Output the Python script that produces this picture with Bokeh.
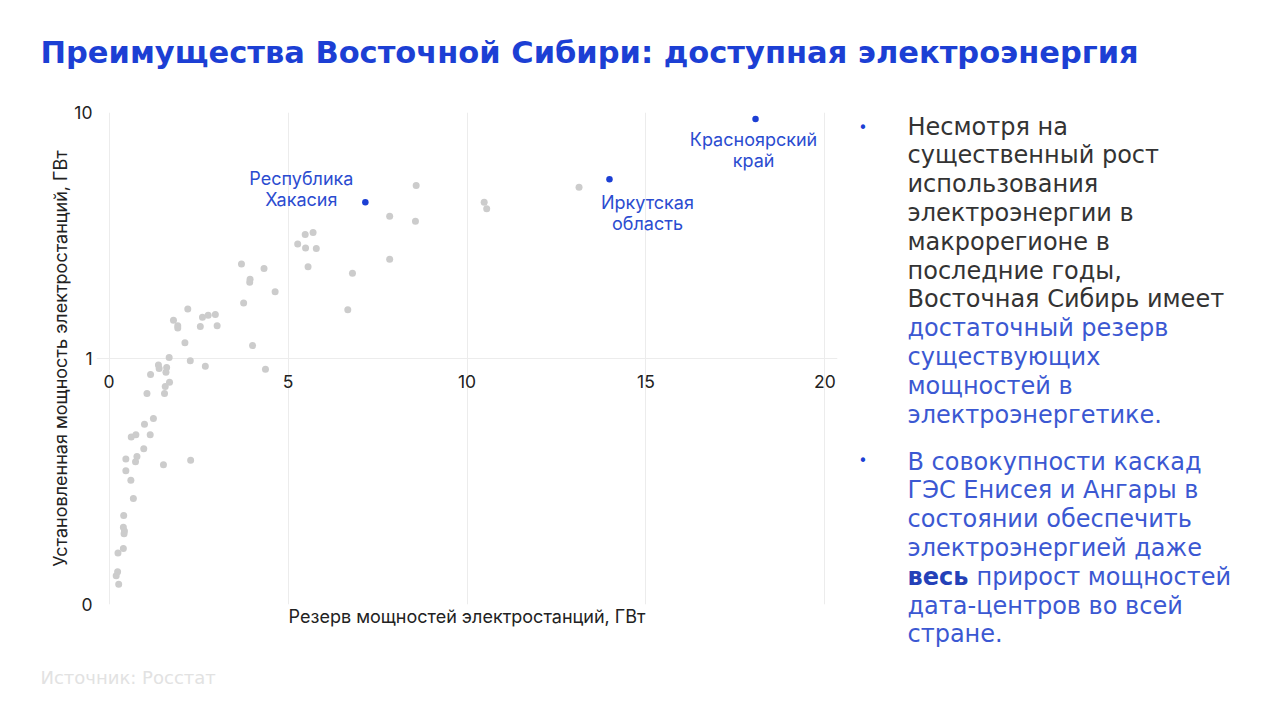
from bokeh.plotting import figure
from bokeh.models import Range1d, Label, FixedTicker, LinearAxis
from bokeh.layouts import column, row
from bokeh.embed import file_html
from bokeh.resources import INLINE

# ---------------- data ----------------
reserve_gw = [8.58, 7.84, 8.56, 7.84, 5.48, 5.70, 5.27, 5.49, 5.79, 5.56, 6.80, 6.67,
              3.70, 4.33, 3.94, 3.93, 4.64, 3.76, 4.01, 4.37, 2.20, 1.80, 1.92, 1.92,
              2.61, 2.77, 2.97, 2.55, 3.02, 2.12, 1.68, 2.27, 2.69, 1.38, 1.40, 1.61,
              1.59, 1.16, 1.69, 1.57, 1.55, 1.06, 1.24, 0.99, 0.62, 0.75, 1.15, 0.97,
              0.47, 0.78, 0.74, 0.47, 1.52, 2.28, 0.61, 0.68, 0.41, 0.40, 0.43, 0.42,
              0.40, 0.25, 0.24, 0.20, 0.27, 13.13, 10.48, 10.55]
installed_gw = [5.05, 3.79, 3.61, 2.53, 3.19, 3.25, 2.92, 2.81, 2.80, 2.36, 2.22, 1.58,
                2.42, 2.32, 2.10, 2.04, 1.87, 1.68, 1.13, 0.905, 1.59, 1.43, 1.36, 1.33,
                1.47, 1.50, 1.51, 1.35, 1.36, 1.16, 1.01, 0.98, 0.93, 0.94, 0.91, 0.92,
                0.88, 0.86, 0.80, 0.77, 0.72, 0.72, 0.57, 0.54, 0.48, 0.49, 0.49, 0.43,
                0.39, 0.40, 0.38, 0.35, 0.37, 0.386, 0.32, 0.27, 0.23, 0.206, 0.199, 0.194,
                0.169, 0.162, 0.136, 0.131, 0.121, 4.97, 4.32, 4.06]

hl_names = ["Республика\nХакасия", "Иркутская\nобласть", "Красноярский\nкрай"]
hl_reserve = [7.16, 13.98, 18.06]
hl_installed = [4.32, 5.35, 9.40]

x_ticks = [0, 5, 10, 15, 20]
y_ticks = [0.1, 1, 10]
y_tick_labels = {0.1: "0", 1: "1", 10: "10"}

title_text = "Преимущества Восточной Сибири: доступная электроэнергия"
x_title = "Резерв мощностей электростанций, ГВт"
y_title = "Установленная мощность электростанций, ГВт"
source_text = "Источник: Росстат"

bullet1_dark = ["Несмотря на", "существенный рост", "использования",
                "электроэнергии в", "макрорегионе в", "последние годы,",
                "Восточная Сибирь имеет"]
bullet1_blue = ["достаточный резерв", "существующих", "мощностей в",
                "электроэнергетике."]
bullet2_lines = ["В совокупности каскад", "ГЭС Енисея и Ангары в",
                 "состоянии обеспечить", "электроэнергией даже",
                 None, "дата-центров во всей", "стране."]
bullet2_bold = "весь"
bullet2_rest = "прирост мощностей"

# ---------------- styling / layout ----------------
W, H = 1264, 705
HEAD_H = 100          # title strip: page y 0..100
MID_BOTTOM = 650      # chart + side text end here; footer below
MAIN_W = 840          # chart column width
FL, FR = 96, 837      # frame edges (x) in page pixels
FT, FB = 112, 604     # frame edges (y) in page pixels
PAD = 0.35            # x padding so edge tick labels are not clipped

BLUE = "#1c3fd4"
TEXT_BLUE = "#3b58d2"
DARK = "#333333"
GREY_PT = "#cccccc"
AXIS_TXT = "#222222"
AX_FONT = "Inter"


def blank(width, height, x0, x1, y0, y1):
    f = figure(width=width, height=height, output_backend="svg",
               toolbar_location=None, x_range=Range1d(x0, x1),
               y_range=Range1d(y1, y0), x_axis_location=None,
               y_axis_location=None, min_border=0)
    f.grid.visible = False
    f.outline_line_color = None
    f.background_fill_color = "white"
    f.border_fill_color = "white"
    return f


def lab(f, x, y, text, size="16px", color=DARK, font="DejaVu Sans",
        style="normal", align="left", baseline="middle"):
    f.add_layout(Label(x=x, y=y, text=text, text_font=font, text_font_size=size,
                       text_color=color, text_font_style=style, text_align=align,
                       text_baseline=baseline))


# ---- title strip ----
p_head = blank(W, HEAD_H, 0, W, 0, HEAD_H)
lab(p_head, 40, 52, title_text, size="30.5px", color=BLUE, style="bold")

# ---- main chart ----
p = figure(width=MAIN_W, height=MID_BOTTOM - HEAD_H, output_backend="svg",
           toolbar_location=None, x_range=Range1d(-PAD, 20 + PAD),
           y_range=Range1d(0.1, 10), y_axis_type="log",
           min_border_left=FL, min_border_right=MAIN_W - FR,
           min_border_top=FT - HEAD_H, min_border_bottom=MID_BOTTOM - FB)
p.outline_line_color = None
p.background_fill_color = "white"
p.border_fill_color = "white"

p.xgrid.ticker = FixedTicker(ticks=x_ticks)
p.ygrid.ticker = FixedTicker(ticks=y_ticks)
p.xgrid.grid_line_color = "#ececec"
p.ygrid.grid_line_color = "#ececec"

xa = p.xaxis[0]
xa.ticker = FixedTicker(ticks=x_ticks)
xa.fixed_location = 1
xa.axis_line_color = None
xa.major_tick_line_color = None
xa.minor_tick_line_color = None
xa.major_label_standoff = 10
xa.major_label_text_font = AX_FONT
xa.major_label_text_font_size = "17.5px"
xa.major_label_text_color = AXIS_TXT

# axis that only carries the x title at the bottom of the frame
xt = LinearAxis(ticker=FixedTicker(ticks=[]), axis_label=x_title,
                axis_line_color=None, major_tick_line_color=None,
                minor_tick_line_color=None, major_label_standoff=0,
                axis_label_standoff=1, axis_label_text_font=AX_FONT,
                axis_label_text_font_size="18px", axis_label_text_font_style="normal",
                axis_label_text_color=AXIS_TXT)
p.add_layout(xt, "below")

ya = p.yaxis[0]
ya.ticker = FixedTicker(ticks=y_ticks)
ya.major_label_overrides = y_tick_labels
ya.axis_line_color = None
ya.major_tick_line_color = None
ya.minor_tick_line_color = None
ya.major_label_standoff = -2
ya.major_label_text_font = AX_FONT
ya.major_label_text_font_size = "17.5px"
ya.major_label_text_color = AXIS_TXT
ya.axis_label = y_title
ya.axis_label_text_font = AX_FONT
ya.axis_label_text_font_size = "18px"
ya.axis_label_text_font_style = "normal"
ya.axis_label_text_color = AXIS_TXT
ya.axis_label_standoff = 0

p.scatter(x=reserve_gw, y=installed_gw, size=7, color=GREY_PT, line_color=None)
p.scatter(x=hl_reserve, y=hl_installed, size=6.5, color=BLUE, line_color=None)

# point annotations: screen offsets from each highlighted point
ann_offsets = [(-64, -24), (38, 23), (-2, 20)]
for xv, yv, name, (dx, dy) in zip(hl_reserve, hl_installed, hl_names, ann_offsets):
    for k, line in enumerate(name.split("\n")):
        p.add_layout(Label(x=xv, y=yv, x_offset=dx, y_offset=-(dy + 21 * k),
                           text=line, text_font=AX_FONT, text_font_size="18px",
                           text_color="#2b4cd0", text_align="center",
                           text_baseline="middle"))

# ---- right text column ----
p_side = blank(W - MAIN_W, MID_BOTTOM - HEAD_H, MAIN_W, W, HEAD_H, MID_BOTTOM)
TX = 907
LH = 28.8
BODY = "24px"
lab(p_side, 858, 127, "•", size="15px", color=BLUE)
yy = 126
for line in bullet1_dark:
    lab(p_side, TX, yy, line, size=BODY, color=DARK)
    yy += LH
for line in bullet1_blue:
    lab(p_side, TX, yy, line, size=BODY, color=TEXT_BLUE)
    yy += LH

lab(p_side, 858, 460, "•", size="15px", color=BLUE)
yy = 461
for line in bullet2_lines:
    if line is None:
        lab(p_side, TX, yy, bullet2_bold, size=BODY, color="#2441b8", style="bold")
        lab(p_side, 976, yy, bullet2_rest, size=BODY, color=TEXT_BLUE)
    else:
        lab(p_side, TX, yy, line, size=BODY, color=TEXT_BLUE)
    yy += LH

# ---- footer ----
p_foot = blank(W, H - MID_BOTTOM, 0, W, MID_BOTTOM, H)
lab(p_foot, 40, 677, source_text, size="18px", color="#e2e2e2")

# nest each figure so the row does not align their frames
layout = column(p_head, row(column(p), column(p_side)), p_foot)
open("out.html", "w").write(file_html(layout, INLINE))
